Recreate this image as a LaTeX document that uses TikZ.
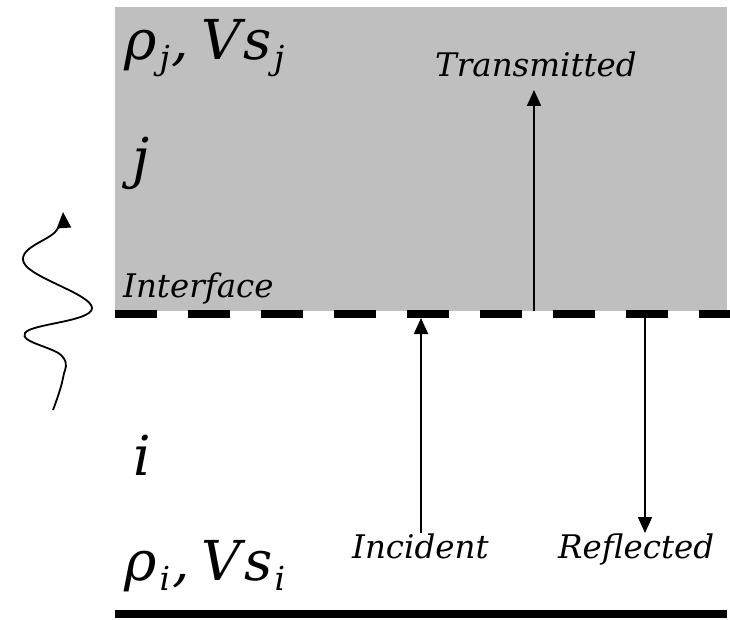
\documentclass[tikz,border=0pt]{standalone}
\usepackage{fontspec}
\setmainfont{DejaVu Serif}
\usetikzlibrary{arrows.meta}
\newcommand{\bigsz}{\fontsize{55}{60}\selectfont}
\newcommand{\subsz}{\fontsize{33}{36}\selectfont}
\newcommand{\medsz}{\fontsize{32.5}{38}\selectfont}
\newcommand{\mylbl}[1]{\itshape ρ\kern3pt\raisebox{-10pt}{\subsz #1}\kern2pt,\kern12pt V\kern3pt s\kern2pt\raisebox{-10pt}{\subsz #1}}
\tikzset{
  layer/.style={fill=black!25, draw=none},
  word/.style={font=\medsz\itshape, anchor=base west, inner sep=0pt},
  big/.style={font=\bigsz\itshape, anchor=base west, inner sep=0pt},
  tip/.style={-{Triangle[length=16pt,width=14pt]}},
  ray/.style={line width=1.8pt, tip},
}
\begin{document}
\begin{tikzpicture}[x=1pt,y=-1pt]
\useasboundingbox (0,0) rectangle (730,620);
\fill[layer] (115,7) rectangle (727,311);
% interface
\coordinate (ifl) at (115,314);
\coordinate (ifr) at (730,314);
\draw[line width=8pt, dash pattern=on 42pt off 31pt] (ifl) -- (ifr);
% bottom boundary
\coordinate (bl) at (115,614);
\coordinate (br) at (727,614);
\draw[line width=8pt] (bl) -- (br);
% labels
\node[big] (rj) at (124,60) {\mylbl{j}};
\node[big] (lj) at (132,178) {j};
\node[word] (intf) at (123,297) {Interface};
\node[big] (li) at (133,475) {i};
\node[big] (ri) at (124,580) {\mylbl{i}};
\node[word] (tr) at (435,77) {Transmitted};
\node[word] (inc) at (352,558) {Incident};
\node[word] (ref) at (558,558) {Reflected};
% rays
\coordinate (inc0) at (421,533);
\coordinate (inc1) at (421,318);
\coordinate (ref0) at (645,318);
\coordinate (ref1) at (645,533);
\coordinate (tr0) at (534,311);
\coordinate (tr1) at (534,90);
\draw[ray] (inc0) -- (inc1);
\draw[ray] (ref0) -- (ref1);
\draw[ray] (tr0) -- (tr1);
% wave
\draw[line width=1.8pt, tip]
  plot[smooth, tension=0.7] coordinates {(53,410) (63,378) (62,356) (25,333) (92,308) (24,263) (56,231) (63,212)};
\end{tikzpicture}
\end{document}
